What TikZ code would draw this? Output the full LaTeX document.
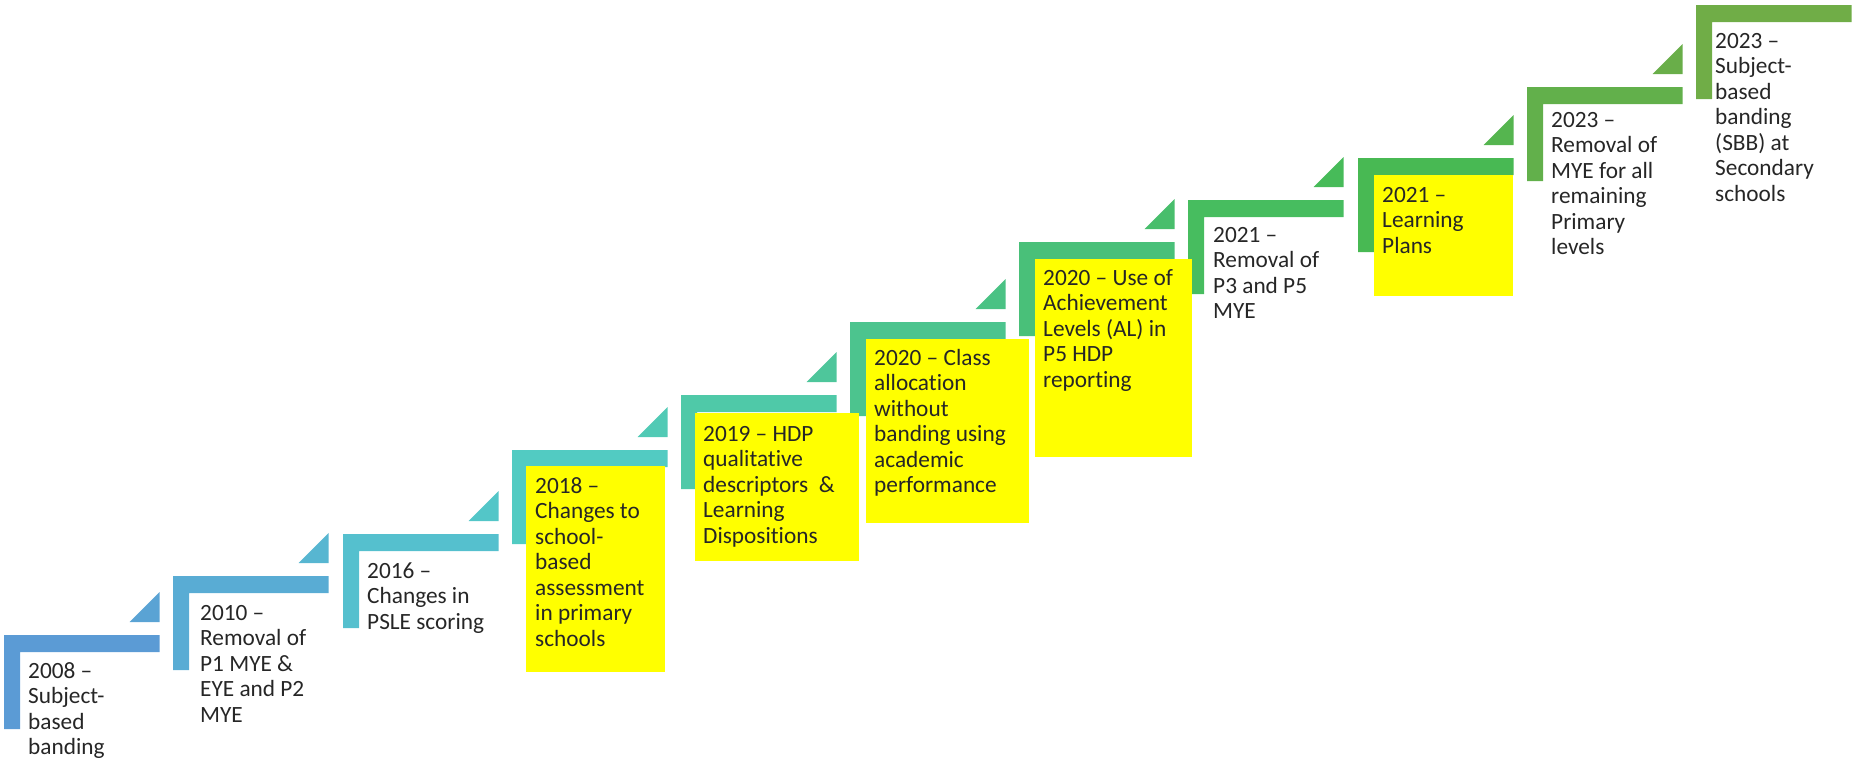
\documentclass[tikz,border=0pt]{standalone}
\usepackage{fontspec}
\setmainfont{Carlito}[Ligatures=NoCommon]
\definecolor{c1}{HTML}{5B9BD5}
\definecolor{c2}{HTML}{59ACD4}
\definecolor{c3}{HTML}{55C0CE}
\definecolor{c4}{HTML}{52CBC2}
\definecolor{c5}{HTML}{4FC9A8}
\definecolor{c6}{HTML}{4CC48E}
\definecolor{c7}{HTML}{49C079}
\definecolor{c8}{HTML}{47BD5F}
\definecolor{c9}{HTML}{48B953}
\definecolor{c10}{HTML}{62B04B}
\definecolor{c11}{HTML}{70AD47}
\definecolor{ink}{HTML}{262626}
\definecolor{hl}{HTML}{FFFF00}
\begin{document}
\begin{tikzpicture}[x=1pt,y=-1pt,
  txt/.style={anchor=north west, inner sep=0pt, align=left, text=ink,
    font=\fontsize{23.3}{25.5}\selectfont},
  hlbox/.style={fill=hl, draw=none}]
\useasboundingbox (0,0) rectangle (1854,763);
% step shapes
\foreach \i/\L/\T in {1/4/635, 2/173/576, 3/343/534, 4/512/450, 5/681/395,
  6/850/322, 7/1019/242, 8/1188/200, 9/1358/158, 10/1527/87, 11/1696/5}{
  \fill[c\i] (\L,\T) -- ++(155.5,0) -- ++(0,17) -- ++(-139.5,0)
     -- ++(0,77) -- ++(-16,0) -- cycle;
}
% triangles
\foreach \i/\j/\L/\T in {1/2/4/635, 2/3/173/576, 3/4/343/534, 4/5/512/450,
  5/6/681/395, 6/7/850/322, 7/8/1019/242, 8/9/1188/200, 9/10/1358/158,
  10/11/1527/87}{
  \fill[c\i!50!c\j] (\L+155.5,\T-13) -- ++(0,-30) -- ++(-30,30) -- cycle;
}
% highlighted boxes
\fill[hlbox] (526,466) rectangle (665,672);
\fill[hlbox] (695,413) rectangle (859,561);
\fill[hlbox] (866,339) rectangle (1029,523);
\fill[hlbox] (1035,259) rectangle (1192,457);
\fill[hlbox] (1374,175) rectangle (1513,296);
% texts
\node[txt] (t1) at (28,658) {\rule{0pt}{20pt}2008 –\\Subject-\\based\\banding};
\node[txt] (t2) at (200,600) {\rule{0pt}{20pt}2010 –\\Removal of\\P1 MYE \&\\EYE and P2\\MYE};
\node[txt] (t3) at (367,558) {\rule{0pt}{20pt}2016 –\\Changes in\\PSLE scoring};
\node[txt] (t4) at (535,473) {\rule{0pt}{20pt}2018 –\\Changes to\\school-\\based\\assessment\\in primary\\schools};
\node[txt] (t5) at (703,421) {\rule{0pt}{20pt}2019 – HDP\\qualitative\\descriptors\ \ \&\\Learning\\Dispositions};
\node[txt] (t6) at (874,345) {\rule{0pt}{20pt}2020 – Class\\allocation\\without\\banding using\\academic\\performance};
\node[txt] (t7) at (1043,265) {\rule{0pt}{20pt}2020 – Use of\\Achievement\\Levels (AL) in\\P5 HDP\\reporting};
\node[txt] (t8) at (1213,222) {\rule{0pt}{20pt}2021 –\\Removal of\\P3 and P5\\MYE};
\node[txt] (t9) at (1382,182) {\rule{0pt}{20pt}2021 –\\Learning\\Plans};
\node[txt] (t10) at (1551,107) {\rule{0pt}{20pt}2023 –\\Removal of\\MYE for all\\remaining\\Primary\\levels};
\node[txt] (t11) at (1715,28) {\rule{0pt}{20pt}2023 –\\Subject-\\based\\banding\\(SBB) at\\Secondary\\schools};
\end{tikzpicture}
\end{document}
